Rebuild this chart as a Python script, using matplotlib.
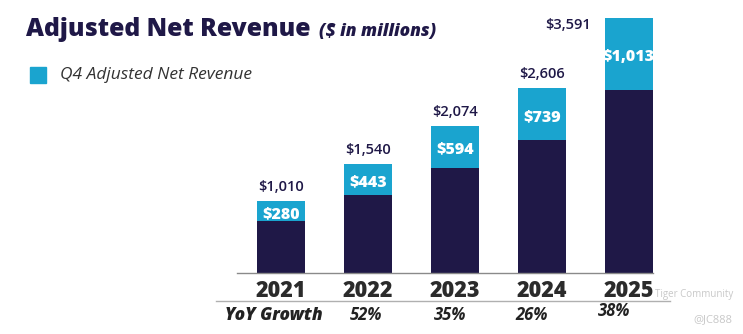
import matplotlib.pyplot as plt
from matplotlib.lines import Line2D

# data
years = ['2021', '2022', '2023', '2024', '2025']
total = [1010, 1540, 2074, 2606, 3591]
q4 = [280, 443, 594, 739, 1013]
growth = ['52%', '35%', '26%', '38%']

NAVY = '#1f1847'
CYAN = '#1aa4cf'
W, H = 743, 334
plt.rcParams['font.family'] = ['Open Sans', 'DejaVu Sans']


def px(x, y):
    # pixel coords (from top-left) to figure fraction
    return x / W, 1 - y / H


fig = plt.figure(figsize=(W / 100, H / 100), dpi=100)
ax = fig.add_axes([237 / W, 1 - 273 / H, 416 / W, 273 / H])

xs = list(range(len(years)))
base = [t - q for t, q in zip(total, q4)]
bw = 0.55
ax.bar(xs, base, width=bw, color=NAVY)
ax.bar(xs, q4, width=bw, bottom=base, color=CYAN)

ax.set_xlim(-0.506, 4.28)
ax.set_ylim(0, 3591 * 273 / 255)
for s in ['top', 'right', 'left']:
    ax.spines[s].set_visible(False)
ax.spines['bottom'].set_color('#8a8a8a')
ax.spines['bottom'].set_linewidth(1)
ax.set_yticks([])
ax.set_xticks(xs)
ax.set_xticklabels(years, fontsize=15.5, fontweight='heavy', color='#2b2b2b')
ax.tick_params(axis='x', length=0, pad=4)

# labels
for i in xs:
    ax.annotate(f'${q4[i]:,}', (i, base[i] + q4[i] / 2), xytext=(0, -2),
                textcoords='offset points', ha='center', va='center',
                fontsize=11.5, fontweight='heavy', color='white')
    if i < len(xs) - 1:
        ax.annotate(f'${total[i]:,}', (i, total[i]), xytext=(0, 5),
                    textcoords='offset points', ha='center', va='bottom',
                    fontsize=10.5, fontweight='semibold', color=NAVY)
    else:
        ax.annotate(f'${total[i]:,}', (i - bw / 2, total[i]), xytext=(-10, -5),
                    textcoords='offset points', ha='right', va='center',
                    fontsize=10.5, fontweight='semibold', color=NAVY)

# title + legend
fig.text(*px(26, 36), 'Adjusted Net Revenue', fontsize=17.8, fontweight='heavy',
         color=NAVY, va='baseline')
fig.text(*px(319, 36), '($ in millions)', fontsize=12.5, fontweight='heavy',
         style='italic', color=NAVY, va='baseline')
fig.patches.append(plt.Rectangle(px(30, 83), 16 / W, 16 / H, color=CYAN,
                                 transform=fig.transFigure))
fig.text(*px(60, 75), 'Q4 Adjusted Net Revenue', fontsize=12.5, style='italic',
         color='#333333', va='center')

# growth row
fig.add_artist(Line2D([216 / W, 670 / W], [1 - 301 / H] * 2, color='#b0b0b0', lw=1))
fig.text(*px(225, 315), 'YoY Growth', fontsize=12.5, fontweight='heavy', style='italic',
         color='#222222', va='center')
for x, y, g in zip([366, 450, 532, 614], [315, 315, 315, 311], growth):
    fig.text(*px(x, y), g, fontsize=12, fontweight='bold', style='italic',
             color='#222222', va='center', ha='center')

# watermark
fig.text(*px(655, 294), 'Tiger Community', fontsize=7, color='#c8c8c8', va='center')
fig.text(*px(693, 320), '@JC888', fontsize=8, color='#c8c8c8', va='center')

fig.savefig('out.png', dpi=100)
